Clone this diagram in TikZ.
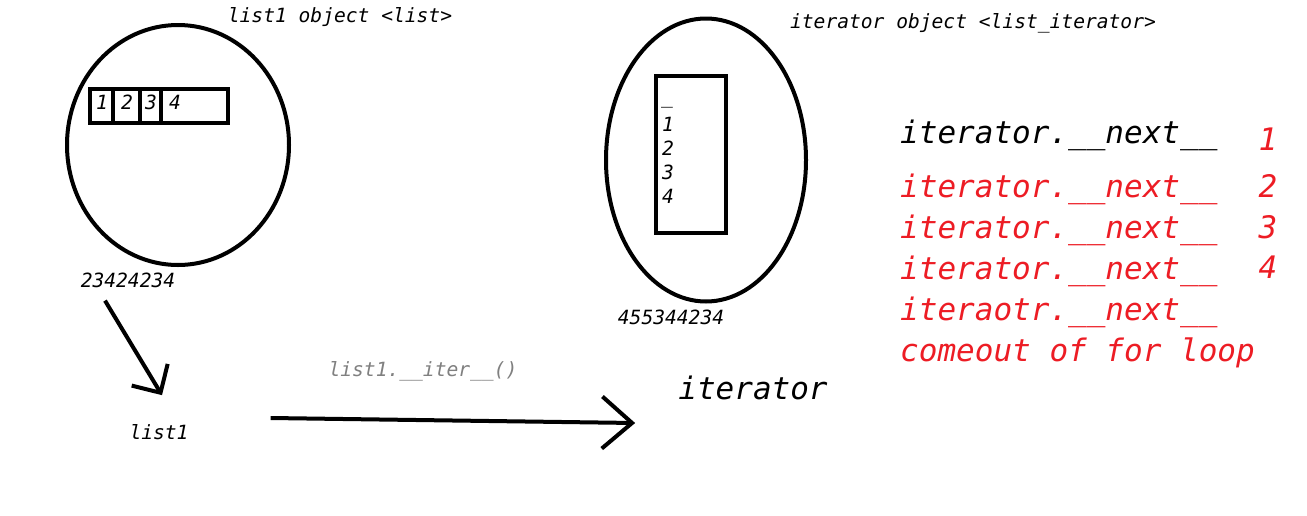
\documentclass[tikz,border=0pt]{standalone}
\usepackage{fontspec}
\setmonofont{DejaVu Sans Mono}
\usepackage{tikz}
\usetikzlibrary{arrows.meta,positioning,calc,shapes.geometric}
\tikzset{
  >=Stealth,
  every node/.append style={inner sep=0pt},
}
\tikzset{
  smalltxt/.style={font=\ttfamily\itshape\fontsize{19.6}{22}\selectfont},
  bigtxt/.style={font=\ttfamily\itshape\fontsize{31}{34}\selectfont},
  obj/.style={draw, ellipse, line width=4pt},
  cellbox/.style={draw, rectangle, line width=4pt},
  handarrow/.style={line width=4pt}
}

\begin{document}
\begin{tikzpicture}[x=1pt, y=-1pt]
% Color definitions
\definecolor{paintred}{RGB}{237,28,36}
\definecolor{paintgray}{RGB}{128,128,128}

\fill[white] (0,0) rectangle (1307,515);
\useasboundingbox (0,0) rectangle (1307,515);

% list object
\node[obj, minimum width=222pt, minimum height=240pt] (listobj) at (178,145) {};
\node[smalltxt] (listcap) at (340,17) {list1 object <list>};
\node[cellbox, minimum width=138pt, minimum height=34pt] (arr) at (159,106) {};
\foreach \dx in {25,52,73}
  \draw[line width=4pt] ([xshift=\dx pt]arr.north west) -- ([xshift=\dx pt]arr.south west);
\foreach \n/\px in {1/102, 2/127, 3/151, 4/175}
  \node[smalltxt] (item\n) at (\px,102) {\n};
\node[smalltxt] (addr1) at (128,280) {23424234};

% iterator object
\node[obj, minimum width=200pt, minimum height=283pt] (iterobj) at (706,160) {};
\node[smalltxt] (itercap) at (973,23) {iterator object <list\_iterator>};
\node[cellbox, minimum width=70pt, minimum height=157pt] (col) at (691,154.5) {};
\node[smalltxt] (slot0) at (667,106) {\_};
\foreach \n/\py in {1/124, 2/148, 3/172, 4/196}
  \node[smalltxt] (slot\n) at (668,\py) {\n};
\node[smalltxt] (addr2) at (671,317) {455344234};

% names and call
\node[smalltxt] (lst) at (159,432) {list1};
\node[smalltxt, text=paintgray] (calllbl) at (423,371) {list1.\_\_iter\_\_()};
\node[bigtxt] (iterlbl) at (753,388) {iterator};

\draw[handarrow, -{Straight Barb[length=21pt, width=42pt]}]
  ([shift={(-23,13)}]addr1.south) -- ([shift={(3,-29)}]lst.north);
\draw[handarrow, -{Straight Barb[length=30pt, width=52pt]}]
  ([shift={(82,-14)}]lst.east) -- ([shift={(-43,35)}]iterlbl.west);

% next calls
\node[bigtxt, anchor=base west] (next1) at (900,143) {iterator.\_\_next\_\_};
\foreach \k/\py/\txt in {2/197/iterator, 3/238/iterator, 4/279/iterator, 5/320/iteraotr}
  \node[bigtxt, anchor=base west, text=paintred] (next\k) at (900,\py) {\txt.\_\_next\_\_};
\node[bigtxt, anchor=base west, text=paintred] (next6) at (900,361) {comeout of for loop};
\foreach \k/\py in {1/150, 2/197, 3/238, 4/278}
  \node[bigtxt, anchor=base, text=paintred] (count\k) at (1268,\py) {\k};
\end{tikzpicture}
\end{document}
